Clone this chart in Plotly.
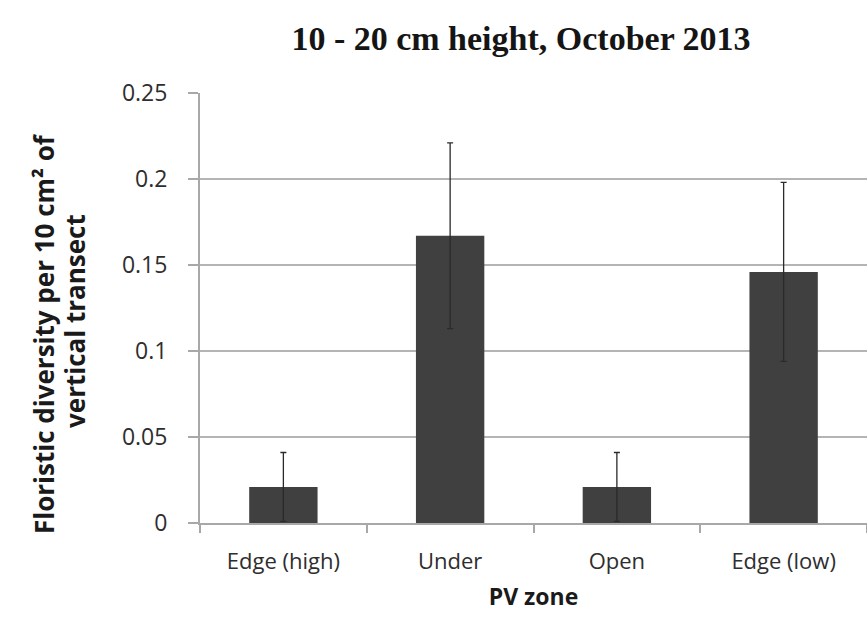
import plotly.graph_objects as go

zones = ["Edge (high)", "Under", "Open", "Edge (low)"]
diversity = [0.021, 0.167, 0.021, 0.146]
std_err = [0.020, 0.054, 0.020, 0.052]
y_ticks = [0, 0.05, 0.1, 0.15, 0.2, 0.25]
y_tick_labels = ["0", "0.05", "0.1", "0.15", "0.2", "0.25"]
y_title_lines = ["Floristic diversity per 10 cm² of", "vertical transect"]

label_font = "'Open Sans', sans-serif"
plot_left, plot_width = 200, 667

fig = go.Figure(
    go.Bar(
        x=zones,
        y=diversity,
        marker=dict(color="#404040", line=dict(width=0)),
        width=0.41,
        error_y=dict(type="data", array=std_err, visible=True,
                     color="#2a2a2a", thickness=1.3, width=3),
    )
)

fig.update_layout(
    width=867, height=621,
    margin=dict(l=plot_left, r=0, t=93, b=98),
    paper_bgcolor="white", plot_bgcolor="white",
    showlegend=False,
    bargap=0.59,
    title=dict(
        text="<b>10 - 20 cm height, October 2013</b>",
        font=dict(family="'Liberation Serif', serif", size=34, color="#151515"),
        x=521 / 867, xanchor="center", y=1 - 38 / 621, yanchor="middle",
    ),
)

# two-line rotated y-axis title, one annotation per line
for px, py, line in [(44, 334, y_title_lines[0]), (75, 321, y_title_lines[1])]:
    fig.add_annotation(
        text=f"<b>{line}</b>", textangle=-90, showarrow=False,
        xref="paper", yref="paper",
        x=(px - plot_left) / plot_width, y=(523 - py) / 430,
        xanchor="center", yanchor="middle",
        font=dict(family=label_font, size=26, color="#1a1a1a"),
    )

fig.update_xaxes(
    type="category",
    tickson="boundaries",
    ticks="outside", ticklen=8, tickcolor="#a8a8a8", tickwidth=1.5,
    showline=True, linecolor="#a8a8a8", linewidth=2,
    showgrid=False,
    ticklabelstandoff=18,
    tickfont=dict(family=label_font, size=22, color="#2e2e2e"),
    title=dict(text="<b>PV zone</b>", standoff=14,
               font=dict(family=label_font, size=23, color="#1a1a1a")),
)

fig.update_yaxes(
    range=[0, 0.25],
    tickvals=y_ticks, ticktext=y_tick_labels,
    ticks="outside", ticklen=10, tickcolor="#a8a8a8", tickwidth=1.5,
    showline=True, linecolor="#a8a8a8", linewidth=2,
    showgrid=True, gridcolor="#b4b4b4", gridwidth=2,
    zeroline=False,
    ticklabelstandoff=16,
    tickfont=dict(family=label_font, size=23, color="#2e2e2e"),
)

fig.write_html("out.html")
